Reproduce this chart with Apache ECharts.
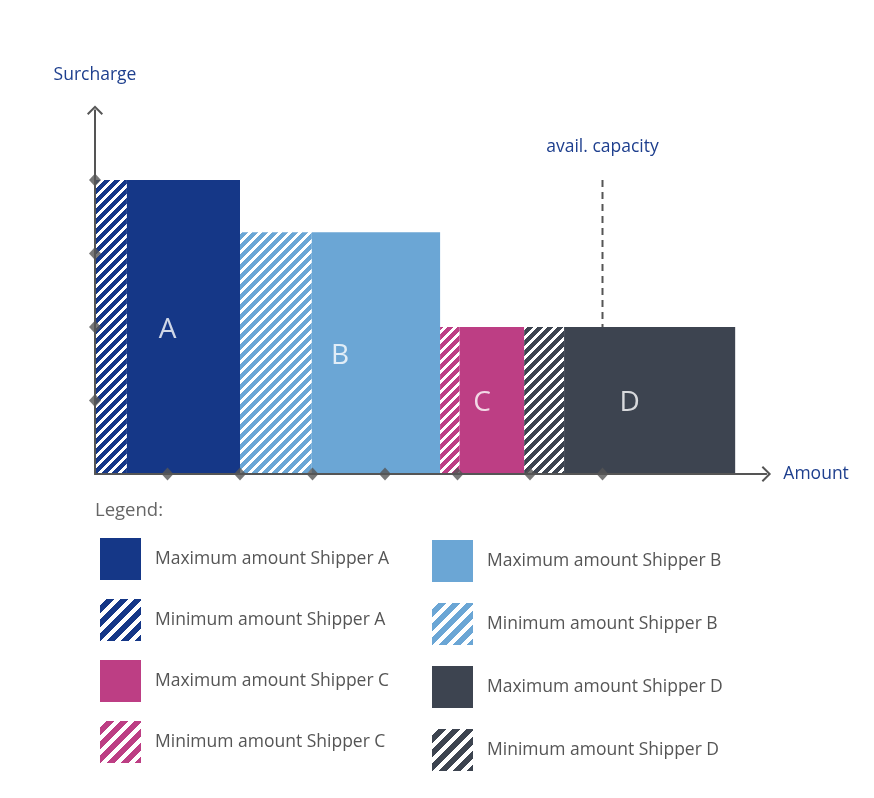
<!DOCTYPE html>
<html>
<head>
<meta charset="utf-8">
<script src="https://cdn.jsdelivr.net/npm/echarts@6/dist/echarts.min.js"></script>
<style>html,body{margin:0;padding:0;background:#fff;}#chart{width:874px;height:798px;}</style>
</head>
<body>
<div id="chart"></div>
<script>
// ---- data ----
const shippers = ['A', 'B', 'C', 'D'];
const minStart = [0, 2.0, 4.76, 5.92];      // start of minimum amount
const minEnd = [0.44, 2.99, 5.03, 6.47];    // end of minimum = start of maximum
const maxEnd = [2.0, 4.76, 5.92, 8.83];     // end of maximum amount
const surcharge = [4, 3.29, 2, 2];
const capacityX = 7;
const capacityTop = 4;
const xTicks = [1, 2, 3, 4, 5, 6, 7];
const yTicks = [1, 2, 3, 4];

// ---- styles ----
const colors = ['#153787', '#6ba6d5', '#bd3e84', '#3d4450'];
const blue = '#1e3f8e';
const axisGrey = '#555555';
const font = 'Open Sans';

function hatch(color, p, w) {
  const c = document.createElement('canvas');
  c.width = p; c.height = p;
  const g = c.getContext('2d');
  g.fillStyle = color; g.fillRect(0, 0, p, p);
  g.fillStyle = '#ffffff';
  for (let y = 0; y < p; y++) {
    for (let x = 0; x < p; x++) {
      if (((x + y) % p) < w) g.fillRect(x, y, 1, 1);
    }
  }
  return { image: c, repeat: 'repeat' };
}

const barHatch = colors.map(c => hatch(c, 10, 4));
const legendHatch = colors.map(c => hatch(c, 14, 6));

function rectRenderer(fill) {
  return function (params, api) {
    const p0 = api.coord([api.value(0), api.value(2)]);
    const p1 = api.coord([api.value(1), 0]);
    return { type: 'rect', shape: { x: p0[0], y: p0[1], width: p1[0] - p0[0], height: p1[1] - p0[1] }, style: { fill: fill } };
  };
}

const series = [];
shippers.forEach((s, i) => {
  series.push({
    name: 'Minimum amount Shipper ' + s, type: 'custom', z: 2,
    itemStyle: { color: colors[i] },
    renderItem: rectRenderer(barHatch[i]),
    encode: { x: [0, 1], y: 2 },
    data: [[minStart[i], minEnd[i], surcharge[i]]]
  });
  series.push({
    name: 'Maximum amount Shipper ' + s, type: 'custom', z: 2,
    itemStyle: { color: colors[i] },
    renderItem: rectRenderer(colors[i]),
    encode: { x: [0, 1], y: 2 },
    data: [[minEnd[i], maxEnd[i], surcharge[i]]]
  });
});

// shipper letters centered on each shipper block
series.push({
  type: 'scatter', z: 4, symbolSize: 0, silent: true,
  data: shippers.map((s, i) => [(minStart[i] + maxEnd[i]) / 2, surcharge[i] / 2, s]),
  label: { show: true, position: 'inside', offset: [0, 3], formatter: p => p.value[2], color: '#fff', fontSize: 28, fontFamily: font }
});

// capacity line
series.push({
  type: 'line', z: 1, symbol: 'circle', symbolSize: 1, silent: true,
  itemStyle: { color: 'rgba(0,0,0,0)' },
  lineStyle: { color: axisGrey, width: 2, type: [7, 5] },
  data: [
    { value: [capacityX, capacityTop], label: { show: true, position: 'top', distance: 24, formatter: 'avail. capacity', color: blue, fontSize: 17.5, fontFamily: font } },
    [capacityX, surcharge[3]]
  ]
});

// diamond tick marks
series.push({
  type: 'scatter', z: 6, symbol: 'diamond', symbolSize: [12, 13], silent: true,
  itemStyle: { color: axisGrey },
  data: xTicks.map(v => [v, 0]).concat(yTicks.map(v => [0, v]))
});

const chevron = 'path://M8,0 L16,8 L14.6,9.4 L8,2.8 L1.4,9.4 L0,8 Z';

const legendCommon = {
  orient: 'vertical', icon: 'rect', itemWidth: 41, itemHeight: 42,
  selectedMode: false, padding: 0,
  itemStyle: { borderWidth: 0 },
  textStyle: { fontSize: 17.5, color: '#555', fontFamily: font, padding: [0, 0, 0, 9] }
};

function legendItem(kind, i) {
  return { name: kind + ' amount Shipper ' + shippers[i], itemStyle: { color: kind === 'Minimum' ? legendHatch[i] : colors[i] } };
}

const option = {
  animation: false,
  backgroundColor: '#fff',
  title: { text: 'Legend:', left: 95, top: 501, padding: 0, textStyle: { fontSize: 18.5, fontWeight: 'normal', color: '#666', fontFamily: font } },
  grid: { left: 95, top: 110.2, width: 671.35, height: 363.8 },
  xAxis: {
    type: 'value', min: 0, max: 9.26, z: 10,
    name: 'Amount', nameLocation: 'end', nameGap: 17,
    nameTextStyle: { color: blue, fontSize: 17.5, fontFamily: font },
    axisLine: { show: true, onZero: false, lineStyle: { color: axisGrey, width: 2 }, symbol: ['none', chevron], symbolSize: [16, 9.4] },
    axisTick: { show: false }, axisLabel: { show: false }, splitLine: { show: false }
  },
  yAxis: {
    type: 'value', min: 0, max: 4.95, z: 10,
    name: 'Surcharge', nameLocation: 'end', nameGap: 26,
    nameTextStyle: { color: blue, fontSize: 17.5, fontFamily: font },
    axisLine: { show: true, onZero: false, lineStyle: { color: axisGrey, width: 2 }, symbol: ['none', chevron], symbolSize: [16, 9.4] },
    axisTick: { show: false }, axisLabel: { show: false }, splitLine: { show: false }
  },
  legend: [
    Object.assign({}, legendCommon, { left: 100, top: 538, itemGap: 19,
      data: [legendItem('Maximum', 0), legendItem('Minimum', 0), legendItem('Maximum', 2), legendItem('Minimum', 2)] }),
    Object.assign({}, legendCommon, { left: 432, top: 540, itemGap: 21,
      data: [legendItem('Maximum', 1), legendItem('Minimum', 1), legendItem('Maximum', 3), legendItem('Minimum', 3)] })
  ],
  series: series
};

const chart = echarts.init(document.getElementById('chart'), null, { renderer: 'canvas' });
chart.setOption(option);
</script>
</body>
</html>
